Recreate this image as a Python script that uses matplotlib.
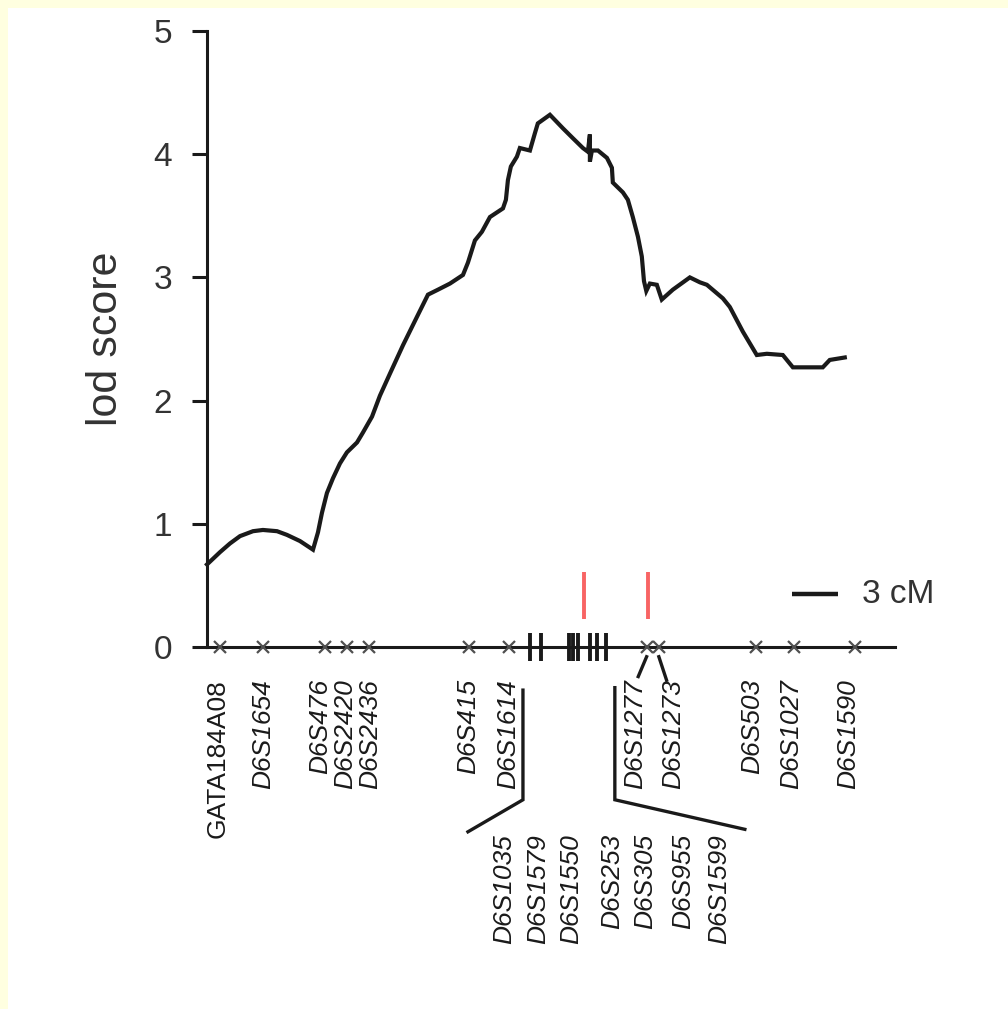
import matplotlib
matplotlib.use("Agg")
import matplotlib.pyplot as plt
from matplotlib.patches import Rectangle

plt.rcParams['font.family'] = ['Liberation Sans', 'DejaVu Sans']

# ---- data ----
pos_cM = [0.0, 0.84, 1.48, 2.13, 2.97, 3.61, 4.52, 5.16, 6.0, 6.84, 7.16, 7.42, 7.74, 8.13,
          8.58, 9.03, 9.68, 10.06, 10.65, 11.16, 11.81, 12.65, 13.55, 14.26, 14.9, 15.68,
          16.52, 16.84, 17.29, 17.74, 18.26, 19.1, 19.29, 19.42, 19.61, 20.0, 20.19, 20.84,
          21.16, 21.35, 22.13, 22.97, 23.61, 24.26, 24.58, 24.71, 24.71, 24.84, 25.23, 25.81,
          26.13, 26.19, 26.84, 27.16, 27.48, 27.81, 28.06, 28.2, 28.35, 28.58, 29.03, 29.35,
          30.06, 31.16, 31.81, 32.26, 33.29, 33.74, 34.58, 35.48, 36.13, 37.16, 37.81, 39.74,
          40.19, 41.16]
lod = [0.67, 0.77, 0.84, 0.90, 0.94, 0.95, 0.94, 0.91, 0.86, 0.79, 0.93, 1.09, 1.25, 1.37,
       1.49, 1.58, 1.66, 1.74, 1.87, 2.04, 2.22, 2.45, 2.68, 2.86, 2.90, 2.95,
       3.02, 3.12, 3.30, 3.37, 3.49, 3.56, 3.63, 3.79, 3.90, 3.98, 4.05, 4.03,
       4.17, 4.25, 4.32, 4.21, 4.13, 4.05, 4.02, 4.16, 3.94, 4.03, 4.03, 3.97,
       3.89, 3.77, 3.69, 3.63, 3.49, 3.33, 3.17, 2.97, 2.89, 2.95, 2.94, 2.82,
       2.90, 3.00, 2.96, 2.94, 2.83, 2.76, 2.56, 2.37, 2.38, 2.37, 2.27, 2.27,
       2.33, 2.35]

upper_markers = ['GATA184A08', 'D6S1654', 'D6S476', 'D6S2420', 'D6S2436', 'D6S415',
                 'D6S1614', 'D6S1277', 'D6S1273', 'D6S503', 'D6S1027', 'D6S1590']
upper_marker_pos = [0.84, 3.61, 7.61, 9.03, 10.45, 16.9, 19.48, 28.37, 29.16, 35.4, 37.9, 41.8]
upper_label_pos = [0.71, 3.61, 7.3, 8.9, 10.55, 16.84, 19.42, 27.61, 30.06, 35.16, 37.68, 41.35]
upper_italic = [False] + [True] * 11

cluster_markers = ['D6S1035', 'D6S1579', 'D6S1550', 'D6S253', 'D6S305', 'D6S955', 'D6S1599']
cluster_tick_pos = [20.84, 21.55, 23.35, 23.6, 23.94, 24.7, 25.2, 25.74]
cluster_label_pos = [19.16, 21.35, 23.48, 26.13, 28.26, 30.71, 33.03]

red_line_pos = [24.32, 28.45]
yticks = [0, 1, 2, 3, 4, 5]

# ---- figure ----
W, H = 1008, 1009
fig = plt.figure(figsize=(W / 100, H / 100), dpi=100, facecolor='#FFFFE0')
fig.patches.append(Rectangle((8 / W, 0), 1 - 8 / W, 1 - 8 / H, transform=fig.transFigure,
                             facecolor='white', edgecolor='none', zorder=-10))

left, right, bottom, top = 207 / W, 895 / W, 1 - 647 / H, 1 - 31 / H
ax = fig.add_axes([left, bottom, right - left, top - bottom])
ax.set_facecolor('none')
ax.set_xlim(0, 44.4)
ax.set_ylim(0, 5)

for s in ['top', 'right']:
    ax.spines[s].set_visible(False)
ax.spines['left'].set_linewidth(2.2)
ax.spines['bottom'].set_linewidth(2.2)
ax.spines['left'].set_color('#1a1a1a')
ax.spines['bottom'].set_color('#1a1a1a')

ax.set_xticks([])
ax.set_yticks(yticks)
ax.tick_params(axis='y', direction='out', length=11, width=2.2, pad=14,
               labelsize=24, labelcolor='#333333', color='#1a1a1a')
ax.set_ylabel('lod score', fontsize=31, color='#333333')
ax.yaxis.set_label_coords(-0.118, 0.5)

# curve
ax.plot(pos_cM, lod, color='#1a1a1a', lw=3.0, solid_joinstyle='miter', clip_on=False, zorder=5)

# markers on the baseline
ax.plot(upper_marker_pos, [0] * len(upper_marker_pos), linestyle='none', marker='x',
        markersize=8, mew=1.6, color='#505050', clip_on=False, zorder=6)
ax.plot(cluster_tick_pos, [0] * len(cluster_tick_pos), linestyle='none', marker='|',
        markersize=20, mew=2.8, color='#1a1a1a', clip_on=False, zorder=6)

# red lines
for p in red_line_pos:
    ax.plot([p, p], [0.227, 0.61], color='#F86464', lw=2.8, solid_capstyle='butt',
            clip_on=False, zorder=4)

# scale bar
ax.plot([37.74, 40.71], [0.43, 0.43], color='#1a1a1a', lw=3.2, solid_capstyle='butt', clip_on=False)
ax.text(42.26, 0.43, '3 cM', fontsize=24, color='#333333', ha='left', va='center')

# labels
for name, p, it in zip(upper_markers, upper_label_pos, upper_italic):
    ax.annotate(name, xy=(p, 0), xycoords='data', xytext=(0, -32), textcoords='offset pixels',
                rotation=90, ha='center', va='top', fontsize=19,
                fontstyle='italic' if it else 'normal', color='#1a1a1a', annotation_clip=False)
for name, p in zip(cluster_markers, cluster_label_pos):
    ax.annotate(name, xy=(p, 0), xycoords='data', xytext=(0, -187), textcoords='offset pixels',
                rotation=90, ha='center', va='top', fontsize=19, fontstyle='italic',
                color='#1a1a1a', annotation_clip=False)

# bracket connectors
lc = dict(color='#1a1a1a', lw=2.4, clip_on=False, solid_joinstyle='miter')
ax.plot([20.39, 20.39, 16.84], [-0.35, -1.24, -1.50], **lc)
ax.plot([26.32, 26.32, 34.71], [-0.33, -1.24, -1.48], **lc)
ax.plot([28.37, 27.83], [-0.079, -0.24], **lc)
ax.plot([29.16, 29.66], [-0.079, -0.27], **lc)

fig.savefig('out.png', dpi=100, facecolor=fig.get_facecolor())
